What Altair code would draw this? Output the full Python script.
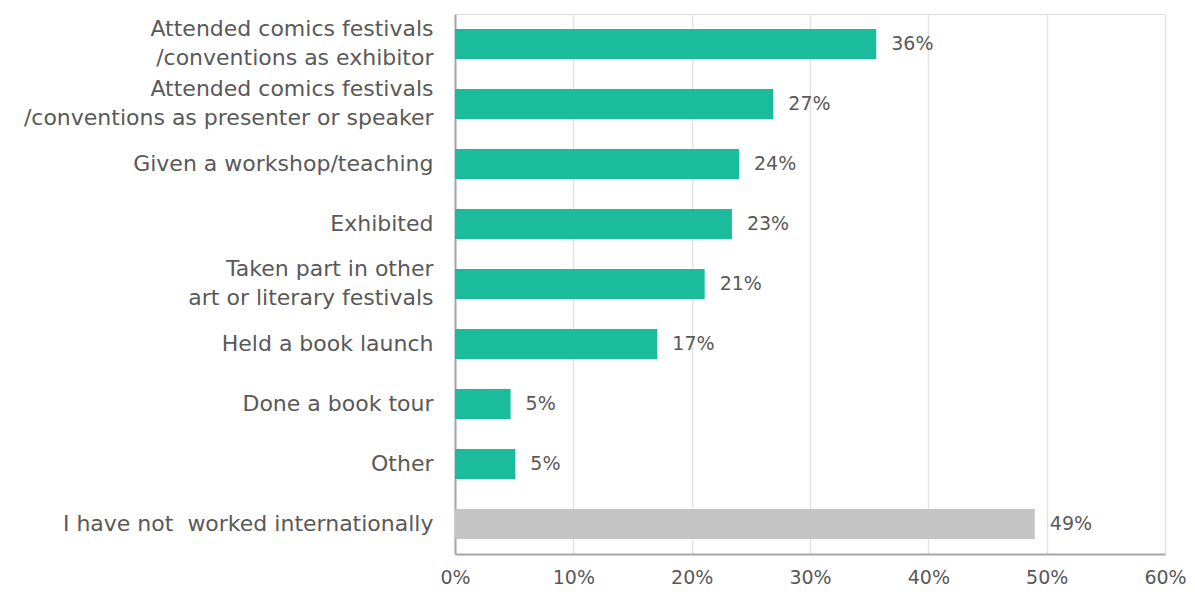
import altair as alt
import pandas as pd

categories = [
    "Attended comics festivals\n/conventions as exhibitor",
    "Attended comics festivals\n/conventions as presenter or speaker",
    "Given a workshop/teaching",
    "Exhibited",
    "Taken part in other\nart or literary festivals",
    "Held a book launch",
    "Done a book tour",
    "Other",
    "I have not \u00a0worked internationally",
]
values = [35.6, 26.9, 24.0, 23.4, 21.1, 17.1, 4.7, 5.1, 49.0]
groups = ["yes"] * 8 + ["no"]

df = pd.DataFrame({"cat": categories, "val": [v / 100 for v in values], "grp": groups})

FONT = "DejaVu Sans"
GREY = "#595959"

y = alt.Y(
    "cat:N",
    sort=categories,
    title=None,
    scale=alt.Scale(paddingInner=0.5, paddingOuter=0.25),
    axis=alt.Axis(
        labelExpr="split(datum.label, '\\n')",
        labelFontSize=22,
        labelFont=FONT,
        labelColor=GREY,
        labelPadding=22,
        labelLineHeight=29,
        labelOffset={"condition": {"test": "indexof(datum.value, '\\n') >= 0", "value": -15}, "value": 0},
        ticks=False,
        domainColor="#a6a6a6",
        domainWidth=2,
        labelLimit=600,
    ),
)
x = alt.X(
    "val:Q",
    title=None,
    scale=alt.Scale(domain=[0, 0.6]),
    axis=alt.Axis(
        format=".0%",
        values=[0, 0.1, 0.2, 0.3, 0.4, 0.5, 0.6],
        labelFontSize=19,
        labelFont=FONT,
        labelColor=GREY,
        labelPadding=14,
        labelFlush=False,
        ticks=False,
        domainColor="#a6a6a6",
        domainWidth=2,
        grid=True,
        gridColor="#e3e3e3",
        gridWidth=1.5,
    ),
)

bars = alt.Chart(df).mark_bar().encode(
    x=x,
    y=y,
    color=alt.Color(
        "grp:N",
        scale=alt.Scale(domain=["yes", "no"], range=["#1ABC9C", "#C4C4C4"]),
        legend=None,
    ),
)

text = alt.Chart(df).mark_text(
    align="left", dx=15, fontSize=19, font=FONT, color=GREY
).encode(
    x="val:Q",
    y=alt.Y("cat:N", sort=categories),
    text=alt.Text("val:Q", format=".0%"),
)

chart = (
    alt.layer(bars, text)
    .properties(
        width=710,
        height=540,
        autosize=alt.AutoSizeParams(type="none"),
        padding={"left": 447, "top": 6, "right": 22, "bottom": 36},
    )
    .configure_view(stroke=None)
    .configure(background="white")
)

chart.save("out.html", embed_options={"renderer": "svg", "actions": False})
